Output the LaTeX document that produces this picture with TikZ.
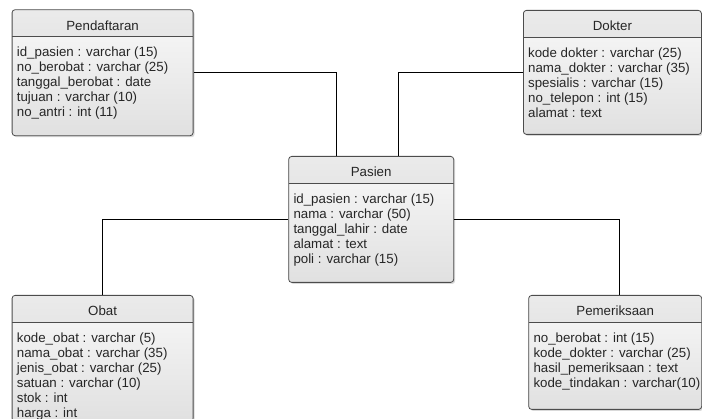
\documentclass[tikz,border=0pt]{standalone}
\usepackage{fontspec}
\setmainfont{Liberation Sans}
\usetikzlibrary{shadows}

\tikzset{
  entity/.style={draw=black!70, line width=0.8pt, rounded corners=3pt,
    anchor=north west, inner sep=0pt, top color=gray!5, bottom color=gray!24,
    drop shadow={shadow xshift=1.5pt, shadow yshift=-1.5pt, opacity=0.3},
    path picture={
      \shade[top color=gray!16, bottom color=gray!32]
        (path picture bounding box.north west) rectangle
        ([yshift=-27pt]path picture bounding box.north east);
      \draw[black!70, line width=0.8pt]
        ([yshift=-27pt]path picture bounding box.north west) --
        ([yshift=-27pt]path picture bounding box.north east);
    }},
  title/.style={font=\fontsize{13.3}{15}\selectfont, text=black!85},
  attrs/.style={font=\fontsize{13.3}{15}\selectfont, align=left,
    anchor=north west, inner sep=0pt, text=black!85},
  link/.style={draw=black, line width=0.6pt}
}

\begin{document}
\begin{tikzpicture}[x=1pt, y=-1pt]
  \useasboundingbox (0,0) rectangle (702,419);
  % tables
  \node[entity, minimum width=181pt, minimum height=126pt] (daftar) at (11.7,9.3) {};
  \node[entity, minimum width=178pt, minimum height=124pt] (dokter) at (523,10) {};
  \node[entity, minimum width=165pt, minimum height=126pt] (pasien) at (288.3,156) {};
  \node[entity, minimum width=181pt, minimum height=126pt] (obat) at (11.7,295) {};
  \node[entity, minimum width=173pt, minimum height=114pt] (periksa) at (528.3,295) {};
  % titles
  \node[title] (daftartitle) at ([yshift=-16pt]daftar.north) {Pendaftaran};
  \node[title] (doktertitle) at ([yshift=-16pt]dokter.north) {Dokter};
  \node[title] (pasientitle) at ([yshift=-16pt]pasien.north) {Pasien};
  \node[title] (obattitle) at ([yshift=-16pt]obat.north) {Obat};
  \node[title] (periksatitle) at ([yshift=-16pt]periksa.north) {Pemeriksaan};
  % attributes
  \node[attrs] (daftarattr) at ([xshift=5pt, yshift=-37.5pt]daftar.north west)
    {id\_pasien : varchar (15)\\no\_berobat : varchar (25)\\tanggal\_berobat : date\\tujuan : varchar (10)\\no\_antri : int (11)};
  \node[attrs] (dokterattr) at ([xshift=5pt, yshift=-37.5pt]dokter.north west)
    {kode dokter : varchar (25)\\nama\_dokter : varchar (35)\\spesialis : varchar (15)\\no\_telepon : int (15)\\alamat : text};
  \node[attrs] (pasienattr) at ([xshift=5pt, yshift=-37.5pt]pasien.north west)
    {id\_pasien : varchar (15)\\nama : varchar (50)\\tanggal\_lahir : date\\alamat : text\\poli : varchar (15)};
  \node[attrs] (obatattr) at ([xshift=5pt, yshift=-37.5pt]obat.north west)
    {kode\_obat : varchar (5)\\nama\_obat : varchar (35)\\jenis\_obat : varchar (25)\\satuan : varchar (10)\\stok : int\\harga : int};
  \node[attrs] (periksaattr) at ([xshift=5pt, yshift=-37.5pt]periksa.north west)
    {no\_berobat : int (15)\\kode\_dokter : varchar (25)\\hasil\_pemeriksaan : text\\kode\_tindakan : varchar(10)};
  % relations
  \draw[link] (daftar.east) -| ([xshift=-35pt]pasien.north);
  \draw[link] (dokter.west) -| ([xshift=27pt]pasien.north);
  \draw[link] (pasien.west) -| (obat.north);
  \draw[link] (pasien.east) -| ([xshift=4pt]periksa.north);
\end{tikzpicture}
\end{document}
